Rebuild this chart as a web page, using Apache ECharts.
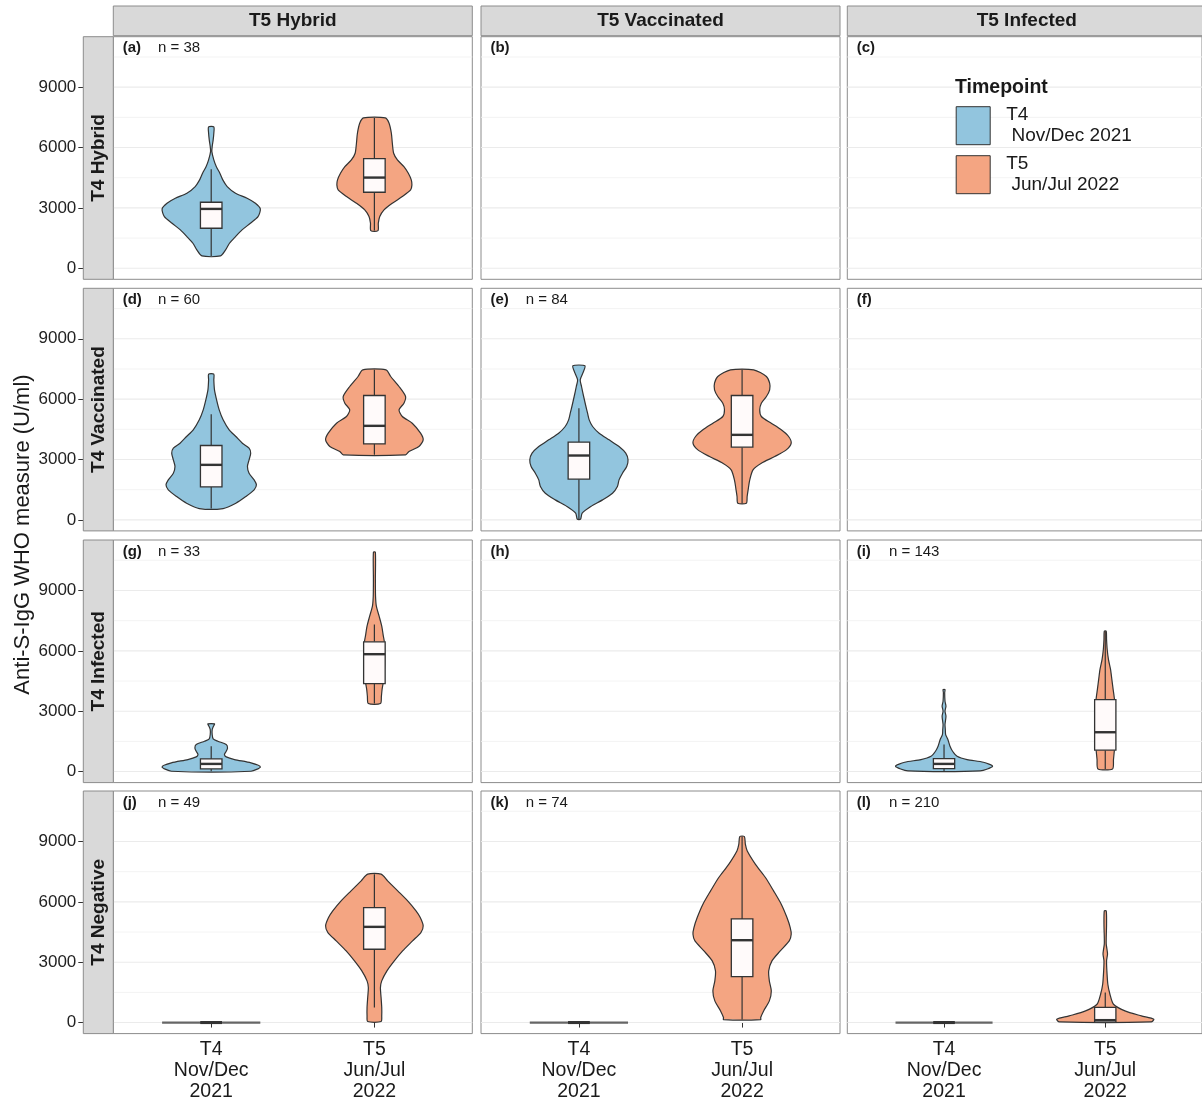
<!DOCTYPE html>
<html>
<head>
<meta charset="utf-8">
<script src="https://cdn.jsdelivr.net/npm/echarts@6/dist/echarts.min.js"></script>
<style>html,body{margin:0;padding:0;background:#fff}#c{width:1202px;height:1104px}</style>
</head>
<body>
<div id="c"></div>
<script>
// ---------- DATA ----------
const categories = ['T4\nNov/Dec\n2021', 'T5\nJun/Jul\n2022'];
const timepoints = ['T4\n Nov/Dec 2021', 'T5\n Jun/Jul 2022'];
const colLabels = ['T5 Hybrid', 'T5 Vaccinated', 'T5 Infected'];
const rowLabels = ['T4 Hybrid', 'T4 Vaccinated', 'T4 Infected', 'T4 Negative'];
const panelLetters = ['(a)','(b)','(c)','(d)','(e)','(f)','(g)','(h)','(i)','(j)','(k)','(l)'];
const panelN = ['n = 38','','','n = 60','n = 84','','n = 33','','n = 143','n = 49','n = 74','n = 210'];
const yTicks = [0, 3000, 6000, 9000];
const yMinor = [1500, 4500, 7500, 10500];

// violin profiles: [value (U/ml), half width (category units)]
const violinA_T4 = [[613,0.057],[911,0.088],[1243,0.112],[1574,0.149],[1906,0.189],[2237,0.240],[2568,0.287],[2950,0.301],[3231,0.271],[3480,0.220],[3728,0.149],[4060,0.098],[4391,0.071],[4722,0.053],[5054,0.031],[5385,0.016],[5800,0.004],[6048,0.006],[6380,0.012],[6711,0.016],[7026,0.016]];
const violinA_T5 = [[1872,0.022],[2237,0.024],[2568,0.033],[2900,0.059],[3231,0.110],[3563,0.171],[3894,0.222],[4143,0.230],[4391,0.226],[4722,0.208],[5054,0.181],[5385,0.141],[5717,0.118],[6214,0.110],[6711,0.104],[7208,0.090],[7473,0.067]];
const violinD_T4 = [[563,0.073],[829,0.151],[1160,0.212],[1491,0.263],[1740,0.277],[1988,0.263],[2320,0.232],[2651,0.222],[2983,0.232],[3314,0.242],[3563,0.232],[3811,0.191],[4143,0.151],[4474,0.110],[4971,0.073],[5468,0.049],[5965,0.033],[6462,0.020],[6959,0.016],[7241,0.016]];
const violinD_T5 = [[3231,0.191],[3397,0.212],[3645,0.273],[3977,0.299],[4308,0.283],[4805,0.232],[5137,0.171],[5468,0.151],[5800,0.181],[6131,0.191],[6628,0.151],[7125,0.100],[7457,0.071]];
const violinE_T4 = [[33,0.010],[331,0.020],[663,0.073],[994,0.145],[1326,0.206],[1657,0.236],[1988,0.246],[2320,0.267],[2651,0.293],[2983,0.301],[3314,0.287],[3645,0.246],[3977,0.185],[4308,0.124],[4640,0.084],[4971,0.063],[5303,0.053],[5634,0.043],[6131,0.029],[6628,0.016],[6959,0.008],[7291,0.024],[7655,0.037]];
const violinE_T5 = [[829,0.026],[1160,0.031],[1491,0.037],[1988,0.047],[2486,0.067],[2817,0.118],[3148,0.200],[3480,0.271],[3811,0.301],[4143,0.285],[4474,0.240],[4805,0.179],[5137,0.118],[5468,0.108],[5800,0.118],[6131,0.149],[6462,0.169],[6793,0.169],[7125,0.149],[7457,0.071]];
const violinG_T4 = [[17,0.244],[232,0.301],[431,0.244],[597,0.143],[729,0.092],[845,0.081],[1011,0.092],[1177,0.100],[1342,0.092],[1508,0.041],[1624,0.012],[1839,0.006],[2088,0.006],[2254,0.014],[2370,0.020]];
const violinG_T5 = [[3380,0.037],[3745,0.043],[4076,0.047],[4374,0.053],[4739,0.059],[5402,0.063],[6065,0.063],[6446,0.061],[6728,0.055],[7225,0.045],[7722,0.029],[8219,0.012],[8716,0.007],[9544,0.006],[10903,0.006]];
const violinI_T4 = [[33,0.224],[265,0.301],[464,0.244],[597,0.143],[762,0.081],[1011,0.053],[1259,0.037],[1591,0.024],[1839,0.010],[2088,0.008],[2336,0.006],[2751,0.012],[3000,0.006],[3248,0.012],[3496,0.006],[3911,0.004],[4076,0.006]];
const violinI_T5 = [[133,0.045],[597,0.051],[1094,0.057],[1425,0.061],[2088,0.061],[2751,0.061],[3579,0.057],[4076,0.049],[4573,0.041],[5070,0.033],[5568,0.020],[6065,0.012],[6562,0.008],[6976,0.006]];
const violinJ_T4 = [[0,0.301]];
const violinJ_T5 = [[50,0.041],[331,0.045],[746,0.045],[1243,0.041],[1740,0.037],[2071,0.045],[2568,0.077],[3065,0.122],[3563,0.173],[4060,0.234],[4474,0.285],[4805,0.299],[5220,0.281],[5551,0.255],[6048,0.204],[6545,0.143],[7042,0.081],[7374,0.041]];
const violinK_T4 = [[0,0.301]];
const violinK_T5 = [[149,0.114],[249,0.114],[580,0.132],[1077,0.167],[1574,0.179],[2071,0.167],[2568,0.163],[3065,0.183],[3563,0.234],[4060,0.289],[4391,0.301],[4723,0.295],[5220,0.275],[5883,0.240],[6545,0.193],[7208,0.143],[7871,0.081],[8534,0.031],[8865,0.020],[9246,0.014]];
const violinL_T4 = [[0,0.301]];
const violinL_T5 = [[30,0.285],[166,0.301],[331,0.224],[580,0.122],[911,0.051],[1408,0.029],[1906,0.016],[2568,0.010],[3065,0.008],[3400,0.014],[3563,0.012],[3900,0.006],[4225,0.006],[4888,0.008],[5551,0.006]];

// box stats: [lower whisker, Q1, median, Q3, upper whisker]
const boxA_T4 = [613,1988,2950,3281,4921];
const boxA_T5 = [1872,3778,4507,5452,7473];
const boxD_T4 = [563,1640,2734,3695,5253];
const boxD_T5 = [3231,3778,4673,6181,7457];
const boxE_T4 = [33,2022,3198,3861,5551];
const boxE_T5 = [829,3612,4225,6181,7457];
const boxG_T4 = [17,133,381,630,1259];
const boxG_T5 = [3380,4374,5833,6446,7307];
const boxI_T4 = [33,149,381,646,1342];
const boxI_T5 = [133,1061,1955,3579,6976];
const boxJ_T4 = [0,0,0,0,0];
const boxJ_T5 = [746,3645,4756,5717,7374];
const boxK_T4 = [0,0,0,0,0];
const boxK_T5 = [149,2287,4093,5153,9246];
const boxL_T4 = [0,0,0,0,0];
const boxL_T5 = [30,20,120,760,1491];

// panel index (row*3+col), timepoint index, profile, box
const violins = [
  [0,0,violinA_T4,boxA_T4],[0,1,violinA_T5,boxA_T5],
  [3,0,violinD_T4,boxD_T4],[3,1,violinD_T5,boxD_T5],
  [4,0,violinE_T4,boxE_T4],[4,1,violinE_T5,boxE_T5],
  [6,0,violinG_T4,boxG_T4],[6,1,violinG_T5,boxG_T5],
  [8,0,violinI_T4,boxI_T4],[8,1,violinI_T5,boxI_T5],
  [9,0,violinJ_T4,boxJ_T4],[9,1,violinJ_T5,boxJ_T5],
  [10,0,violinK_T4,boxK_T4],[10,1,violinK_T5,boxK_T5],
  [11,0,violinL_T4,boxL_T4],[11,1,violinL_T5,boxL_T5]
];

// ---------- STYLE / LAYOUT ----------
const FONT = '"Liberation Sans", Arial, Helvetica, sans-serif';
const fills = ['#92C5DE', '#F4A582'];
const colLeft = [113.3, 481, 847.3];
const rowTop = [36.7, 288.3, 540, 791];
const panelW = 359, panelH = 242.6;
const yMin = -548, yMax = 11508;
const boxHalf = 0.066;
const dark = '#333333';

const chart = echarts.init(document.getElementById('c'), null, {renderer: 'canvas'});

const grids = [], xAxes = [], yAxes = [], series = [], graphics = [];
for (let r = 0; r < 4; r++) {
  for (let c = 0; c < 3; c++) {
    const p = r * 3 + c;
    grids.push({left: colLeft[c], top: rowTop[r], width: panelW, height: panelH,
      show: true, borderColor: '#8C8C8C', borderWidth: 1, backgroundColor: '#fff', containLabel: false});
    xAxes.push({gridIndex: p, type: 'value', min: 0.4, max: 2.6,
      axisLine: {show: false}, splitLine: {show: false},
      axisTick: {show: r === 3, customValues: [1, 2], length: 5, lineStyle: {color: dark, width: 1}},
      axisLabel: {show: r === 3, customValues: [1, 2], margin: 6,
        formatter: v => categories[Math.round(v) - 1],
        fontFamily: FONT, fontSize: 19.5, lineHeight: 21, color: '#1A1A1A'}});
    yAxes.push({gridIndex: p, type: 'value', min: yMin, max: yMax, offset: c === 0 ? 30 : 0,
      axisLine: {show: false}, splitLine: {show: false},
      axisTick: {show: c === 0, customValues: yTicks, length: 5, lineStyle: {color: dark, width: 1}},
      axisLabel: {show: c === 0, customValues: yTicks, margin: 7, formatter: v => String(Math.round(v)),
        fontFamily: FONT, fontSize: 17, color: '#222'}});
    // grid lines
    [[yTicks, '#EBEBEB', 1.1], [yMinor, '#F2F2F2', 0.9]].forEach(([vals, col, lw]) => {
      series.push({type: 'custom', xAxisIndex: p, yAxisIndex: p, silent: true, z: 1,
        data: vals.map(v => [1, v]),
        renderItem: (params, api) => {
          const cs = params.coordSys;
          const y = api.coord([1, api.value(1)])[1];
          return {type: 'line', shape: {x1: cs.x, y1: y, x2: cs.x + cs.width, y2: y},
            style: {stroke: col, lineWidth: lw}};
        }});
    });
    // panel labels
    graphics.push({type: 'text', x: colLeft[c] + 9.4, y: rowTop[r] + 11.5, z: 100,
      style: {text: panelLetters[p], font: 'bold 15px ' + FONT, fill: '#1A1A1A', textVerticalAlign: 'middle'}});
    if (panelN[p]) graphics.push({type: 'text', x: colLeft[c] + (c === 2 ? 41.7 : 44.7), y: rowTop[r] + 11.5, z: 100,
      style: {text: panelN[p], font: '15px ' + FONT, fill: '#1A1A1A', textVerticalAlign: 'middle'}});
  }
}

violins.forEach(([p, tp, profile, box]) => {
  const flat = profile.length < 2;
  series.push({type: 'custom', name: timepoints[tp], xAxisIndex: p, yAxisIndex: p, z: 3,
    itemStyle: {color: fills[tp], borderColor: dark, borderWidth: 1},
    data: [[tp + 1, box[2]]],
    renderItem: (params, api) => {
      const x0 = api.value(0);
      const right = profile.map(([v, w]) => api.coord([x0 + w, v]));
      const left = profile.slice().reverse().map(([v, w]) => api.coord([x0 - w, v]));
      const q1 = api.coord([x0 - boxHalf, box[1]]);
      const q3 = api.coord([x0 + boxHalf, box[3]]);
      const md1 = api.coord([x0 - boxHalf, box[2]]);
      const md2 = api.coord([x0 + boxHalf, box[2]]);
      const wl = api.coord([x0, box[0]]);
      const wh = api.coord([x0, box[4]]);
      const bTop = api.coord([x0, box[3]]);
      const bBot = api.coord([x0, box[1]]);
      const shape = flat
        ? {type: 'line', shape: {x1: left[0][0], y1: left[0][1], x2: right[0][0], y2: right[0][1]},
            style: {stroke: '#666', lineWidth: 2.2}}
        : {type: 'polygon', shape: {points: right.concat(left), smooth: 0.25},
            style: {fill: fills[tp], stroke: dark, lineWidth: 1.2}};
      return {type: 'group', children: [
        shape,
        {type: 'line', shape: {x1: wh[0], y1: wh[1], x2: bTop[0], y2: bTop[1]}, style: {stroke: dark, lineWidth: 1.2}},
        {type: 'line', shape: {x1: bBot[0], y1: bBot[1], x2: wl[0], y2: wl[1]}, style: {stroke: dark, lineWidth: 1.2}},
        {type: 'rect', shape: {x: q1[0], y: q3[1], width: q3[0] - q1[0], height: q1[1] - q3[1]},
          style: {fill: '#FFFAFA', stroke: dark, lineWidth: flat ? 2.5 : 1.3}},
        {type: 'line', shape: {x1: md1[0], y1: md1[1], x2: md2[0], y2: md2[1]}, style: {stroke: dark, lineWidth: flat ? 3 : 2.4}}
      ]};
    }});
});

// strips
colLabels.forEach((t, c) => {
  graphics.push({type: 'rect', shape: {x: colLeft[c], y: 6, width: panelW, height: 29.7},
    style: {fill: '#D9D9D9', stroke: '#8C8C8C', lineWidth: 1}, z: 50});
  graphics.push({type: 'text', x: colLeft[c] + panelW / 2, y: 21, z: 51,
    style: {text: t, font: 'bold 19px ' + FONT, fill: '#1A1A1A', textAlign: 'center', textVerticalAlign: 'middle'}});
});
rowLabels.forEach((t, r) => {
  graphics.push({type: 'rect', shape: {x: 83.3, y: rowTop[r], width: 30, height: panelH},
    style: {fill: '#D9D9D9', stroke: '#8C8C8C', lineWidth: 1}, z: 50});
  graphics.push({type: 'text', x: 98.5, y: rowTop[r] + panelH / 2, rotation: Math.PI / 2, z: 51,
    style: {text: t, font: 'bold 19px ' + FONT, fill: '#1A1A1A', textAlign: 'center', textVerticalAlign: 'middle'}});
});
// y title
graphics.push({type: 'text', x: 23, y: 534.5, rotation: Math.PI / 2, z: 51,
  style: {text: 'Anti-S-IgG WHO measure (U/ml)', font: '22px ' + FONT, fill: '#1A1A1A', textAlign: 'center', textVerticalAlign: 'middle'}});
// legend title
graphics.push({type: 'text', x: 955, y: 88, z: 51,
  style: {text: 'Timepoint', font: 'bold 19.5px ' + FONT, fill: '#1A1A1A', textVerticalAlign: 'middle'}});

chart.setOption({
  animation: false,
  backgroundColor: '#fff',
  grid: grids, xAxis: xAxes, yAxis: yAxes, series: series,
  legend: {data: timepoints, orient: 'vertical', left: 955.7, top: 104.7, padding: 0, itemWidth: 34, itemHeight: 38, itemGap: 7,
    icon: 'rect', selectedMode: false, itemStyle: {borderColor: dark, borderWidth: 1},
    textStyle: {fontFamily: FONT, fontSize: 19, lineHeight: 21, color: '#1A1A1A', padding: [0, 0, 0, 11]}},
  graphic: graphics
});
</script>
</body>
</html>
